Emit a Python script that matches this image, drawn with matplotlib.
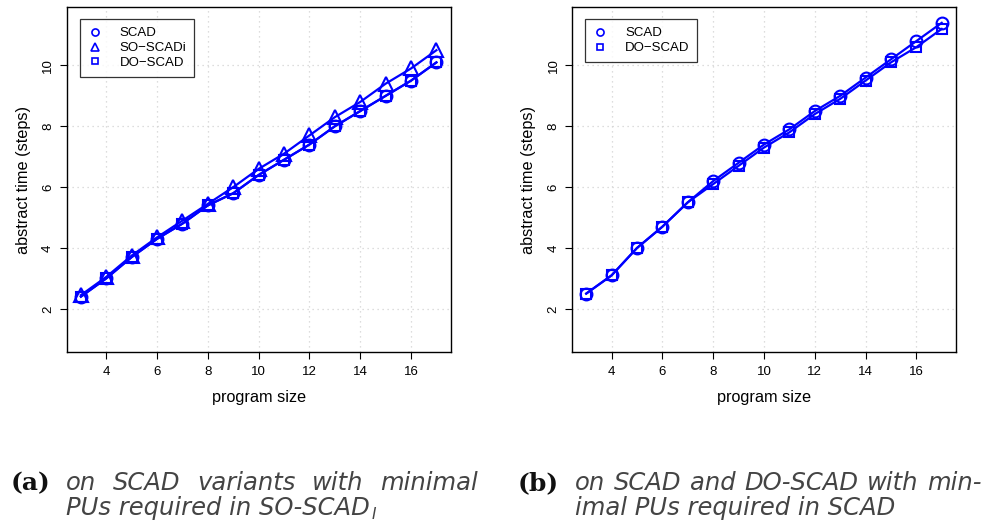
import matplotlib
matplotlib.use("Agg")
import matplotlib.pyplot as plt
from matplotlib.lines import Line2D

# program sizes
taille = [3, 4, 5, 6, 7, 8, 9, 10, 11, 12, 13, 14, 15, 16, 17]

# (a) SCAD variants
a_scad = [2.4, 3.0, 3.7, 4.3, 4.8, 5.4, 5.8, 6.4, 6.9, 7.4, 8.0, 8.5, 9.0, 9.5, 10.1]
a_so_scadi = [2.45, 3.05, 3.75, 4.35, 4.9, 5.45, 6.0, 6.6, 7.1, 7.7, 8.3, 8.8, 9.4, 9.9, 10.5]
a_do_scad = [2.4, 3.0, 3.7, 4.3, 4.8, 5.4, 5.8, 6.4, 6.9, 7.4, 8.0, 8.5, 9.0, 9.5, 10.1]

# (b) SCAD vs DO-SCAD
b_scad = [2.5, 3.1, 4.0, 4.7, 5.5, 6.2, 6.8, 7.4, 7.9, 8.5, 9.0, 9.6, 10.2, 10.8, 11.4]
b_do_scad = [2.5, 3.1, 4.0, 4.7, 5.5, 6.1, 6.7, 7.3, 7.8, 8.4, 8.9, 9.5, 10.1, 10.6, 11.2]

xticks = [4, 6, 8, 10, 12, 14, 16]
yticks = [2, 4, 6, 8, 10]

plt.rcParams['font.family'] = ['Liberation Sans', 'DejaVu Sans']

bleu = "#0000ff"
taille_mk = {"o": 8.5, "^": 9.5, "s": 7.5}
fig = plt.figure(figsize=(9.85, 5.28), dpi=100)


def panneau(rect, series):
    ax = fig.add_axes(rect)
    for vals, mk, nom in series:
        ax.plot(taille, vals, color=bleu, lw=1.6, marker=mk, ms=taille_mk[mk],
                mfc="none", mec=bleu, mew=1.5, label=nom)
    ax.set_xlim(2.44, 17.56)
    ax.set_ylim(0.58, 11.92)
    ax.set_xticks(xticks)
    ax.set_yticks(yticks)
    ax.set_yticklabels([str(v) for v in yticks], rotation=90, va="center")
    ax.tick_params(labelsize=9.5, length=5, width=0.8, direction="out", pad=5)
    ax.tick_params(axis="y", pad=4)
    ax.grid(True, color="#d3d3d3", linestyle=(0, (1, 3)), lw=0.9)
    for s in ax.spines.values():
        s.set_linewidth(1.0)
    ax.set_xlabel("program size", fontsize=11.7, labelpad=9)
    ax.set_ylabel("abstract time (steps)", fontsize=11.7, labelpad=8)
    handles = [Line2D([], [], ls="none", marker=mk, ms=taille_mk[mk] * 0.6, mfc="none",
                      mec=bleu, mew=1.2)
               for _, mk, _ in series]
    leg = ax.legend(handles, [s[2] for s in series], loc="upper left",
                    bbox_to_anchor=(0.035, 0.965), fontsize=9.5, frameon=True,
                    fancybox=False, edgecolor="black", handlelength=1.0,
                    handletextpad=1.4, borderpad=0.6, labelspacing=0.2,
                    borderaxespad=0)
    leg.get_frame().set_linewidth(0.9)
    return ax


panneau([0.0677, 0.3333, 0.3898, 0.6534],
        [(a_scad, "o", "SCAD"), (a_so_scadi, "^", "SO\u2212SCADi"), (a_do_scad, "s", "DO\u2212SCAD")])
panneau([0.5807, 0.3333, 0.3898, 0.6534],
        [(b_scad, "o", "SCAD"), (b_do_scad, "s", "DO\u2212SCAD")])

# captions
gris = "#444444"
cap = dict(fontsize=17.5, style="italic", color=gris, family=["DejaVu Sans"])
fig.canvas.draw()
rend = fig.canvas.get_renderer()


def ligne_justifiee(mots, x0, x1, y):
    txts = [fig.text(0, y, m, transform=None, **cap) for m in mots]
    larg = [t.get_window_extent(rend).width for t in txts]
    ecart = (x1 - x0 - sum(larg)) / (len(mots) - 1)
    x = x0
    for t, w in zip(txts, larg):
        t.set_x(x)
        x += w + ecart


H = 528
for lab, x in [("(a)", 11), ("(b)", 518)]:
    fig.text(x, H - 490, lab, transform=None, fontsize=18, fontweight="bold",
             family=["DejaVu Serif"], color="#111111")

ligne_justifiee(["on", "SCAD", "variants", "with", "minimal"], 66, 478, H - 490)
t = fig.text(66, H - 515, "PUs required in SO-SCAD", transform=None, **cap)
w = t.get_window_extent(rend).width
fig.text(66 + w + 2, H - 519, "I", transform=None, fontsize=11, style="italic",
         color=gris, family=["DejaVu Sans"])

ligne_justifiee(["on", "SCAD", "and", "DO-SCAD", "with", "min-"], 575, 982, H - 490)
fig.text(575, H - 515, "imal PUs required in SCAD", transform=None, **cap)

fig.savefig("out.png", dpi=100)
